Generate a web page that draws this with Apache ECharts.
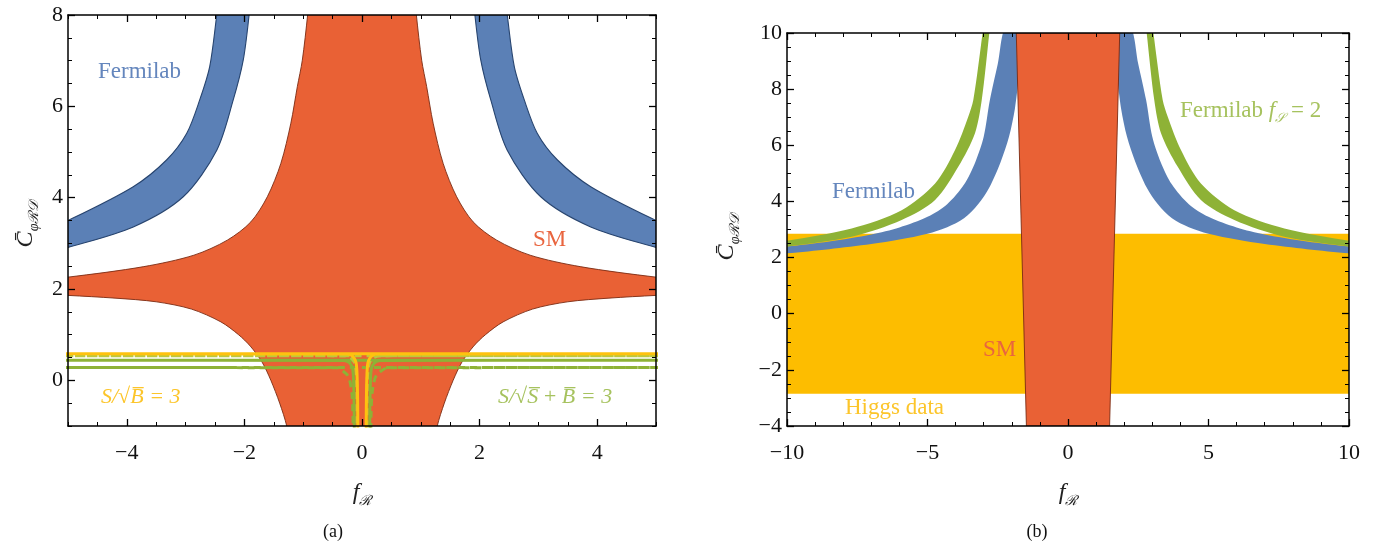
<!DOCTYPE html>
<html><head><meta charset="utf-8">
<script src="https://cdn.jsdelivr.net/npm/echarts@6/dist/echarts.min.js"></script>
<style>html,body{margin:0;padding:0;background:#fff}#c{width:1375px;height:542px}</style>
</head><body><div id="c"></div>
<script>
// ---------- Panel (a) data (right half, mirrored) ----------
const smA_upperAbsF = [0.87, 0.925, 1.015, 1.10, 1.21, 1.38, 1.61, 1.89, 2.29, 2.86, 3.71, 5.0, 5.4];
const smA_upperC    = [8.8,  8.0,   7.01,  6.43, 5.63, 4.75, 4.02, 3.47, 3.07, 2.74, 2.49, 2.26, 2.23];
const smA_lowerAbsF = [1.2,  1.28, 1.4,  1.55, 1.7, 1.9,  2.1, 2.4,  2.9,  3.5,  4.2, 5.0, 5.4];
const smA_lowerC    = [-1.6, -1.0, -0.5, 0.0,  0.4, 0.75, 1.0, 1.28, 1.56, 1.72, 1.8, 1.86, 1.88];

const fermiA_outerAbsF = [2.40, 2.47, 2.59, 2.76, 2.98, 3.32, 3.89, 5.0, 5.4];
const fermiA_outerC    = [8.7,  8.0,  6.87, 6.14, 5.41, 4.83, 4.24, 3.5, 3.3];
const fermiA_innerAbsF = [1.87, 1.92, 2.02, 2.19, 2.47, 3.04, 3.89, 5.0, 5.4];
const fermiA_innerC    = [8.7,  8.0,  7.01, 6.14, 5.04, 4.02, 3.36, 2.91, 2.78];

const ySolidAbsF = [5.2, 0.26, 0.18, 0.13, 0.10, 0.085, 0.075, 0.07];
const ySolidC    = [0.58, 0.575, 0.55, 0.48, 0.38, 0.15, -0.4, -1.2];
const yDashAbsF  = [5.2, 0.30, 0.20, 0.14, 0.11, 0.09, 0.08];
const yDashC     = [0.54, 0.535, 0.50, 0.42, 0.30, 0.0, -1.2];
const gSolidAbsF = [5.2, 0.32, 0.24, 0.19, 0.16, 0.145, 0.135, 0.13];
const gSolidC    = [0.44, 0.435, 0.41, 0.35, 0.26, 0.05, -0.5, -1.2];
const gDashAbsF  = [5.2, 0.43, 0.32, 0.24, 0.20, 0.17, 0.155, 0.15];
const gDashC     = [0.28, 0.275, 0.20, 0.10, -0.05, -0.3, -0.7, -1.2];

// ---------- Panel (b) data ----------
const higgsF = [-10, 10];
const higgsC = [-2.85, 2.85];
const smB_F = [-1.84, 1.84, 1.48, -1.48];
const smB_C = [10, 10, -4, -4];
const fermiB_innerAbsF = [10.5, 10, 8.5, 7, 6, 5, 4.3, 3.7, 3.2, 2.8, 2.4, 2.1, 1.89, 1.75, 1.62];
const fermiB_innerC    = [2.1, 2.15, 2.3, 2.48, 2.64, 2.85, 3.08, 3.4, 3.9, 4.5, 5.4, 6.3, 7.3, 8.5, 10.3];
const fermiB_outerAbsF = [10.5, 10, 8.5, 7, 6, 5, 4.3, 3.7, 3.3, 3.0, 2.78, 2.5, 2.2];
const fermiB_outerC    = [2.34, 2.39, 2.57, 2.82, 3.07, 3.45, 3.9, 4.6, 5.4, 6.3, 7.61, 8.9, 10.3];
const greenB_innerAbsF = [10.5, 10, 7.7, 5.92, 4.73, 3.9, 3.31, 3.07, 2.8, 2.75];
const greenB_innerC    = [2.34, 2.39, 2.74, 3.34, 4.05, 5.24, 6.43, 7.61, 10, 10.5];
const greenB_outerAbsF = [10.5, 10, 7.7, 5.92, 4.73, 4.02, 3.55, 3.37, 3.04, 3.0];
const greenB_outerC    = [2.55, 2.6, 3.04, 3.69, 4.64, 5.83, 7.02, 7.61, 10, 10.4];

const aXMajor = [-4, -2, 0, 2, 4];
const aYMajor = [0, 2, 4, 6, 8];

// ---------- helpers ----------
const zip = (xs, ys, sx) => xs.map((x, i) => [sx * x, ys[i]]);
const rev = a => a.slice().reverse();
const mirrorLine = (absF, c) => rev(zip(absF, c, -1)).concat(zip(absF, c, 1));
function bandPolys(outerF, outerC, innerF, innerC) {
  const left = zip(outerF, outerC, -1).concat(rev(zip(innerF, innerC, -1)));
  const right = zip(outerF, outerC, 1).concat(rev(zip(innerF, innerC, 1)));
  return [left, right];
}
const smA_poly = rev(zip(smA_upperAbsF, smA_upperC, -1))
  .concat(zip(smA_upperAbsF, smA_upperC, 1))
  .concat(rev(zip(smA_lowerAbsF, smA_lowerC, 1)))
  .concat(zip(smA_lowerAbsF, smA_lowerC, -1));
const fermiA_polys = bandPolys(fermiA_outerAbsF, fermiA_outerC, fermiA_innerAbsF, fermiA_innerC);
const fermiB_polys = bandPolys(fermiB_outerAbsF, fermiB_outerC, fermiB_innerAbsF, fermiB_innerC);
const greenB_polys = bandPolys(greenB_outerAbsF, greenB_outerC, greenB_innerAbsF, greenB_innerC);
const higgs_poly = [[higgsF[0], higgsC[0]], [higgsF[1], higgsC[0]], [higgsF[1], higgsC[1]], [higgsF[0], higgsC[1]]];
const smB_poly = smB_F.map((f, i) => [f, smB_C[i]]);

function polySeries(xi, yi, polys, fill, stroke, lw, z, smooth) {
  return {
    type: 'custom', xAxisIndex: xi, yAxisIndex: yi, clip: true, z: z, silent: true,
    data: [[0, 0]],
    renderItem: (params, api) => ({
      type: 'group',
      children: polys.map(p => ({
        type: 'polygon',
        shape: { points: p.map(q => api.coord(q)), smooth: smooth || 0 },
        style: { fill: fill, stroke: stroke || null, lineWidth: lw || 0 }
      }))
    })
  };
}
function lineSeries(data, color, dashed, z) {
  return {
    type: 'line', xAxisIndex: 0, yAxisIndex: 0, data: data, showSymbol: false, symbol: 'none',
    smooth: 0.3, clip: true, z: z, silent: true,
    lineStyle: { color: color, width: 3, type: dashed ? [7, 5] : 'solid' }
  };
}

const FONT = 'Liberation Serif';
const fmt = v => (v < 0 ? '\u2212' + Math.abs(v) : String(v));
const isMajor = (v, step) => Math.abs(v / step - Math.round(v / step)) < 1e-6;
const axisLine = { show: true, onZero: false, lineStyle: { color: '#000', width: 1.5 } };

function aAxis(kind, pos, gridIndex, min, max, majors, labels) {
  const base = {
    gridIndex, type: 'value', position: pos, min, max, z: 10,
    splitLine: { show: false }, axisLine: axisLine
  };
  return [
    Object.assign({}, base, {
      interval: 0.5,
      axisTick: { show: true, inside: true, length: 4, lineStyle: { color: '#000', width: 1 } },
      axisLabel: labels ? {
        show: true, interval: 0, fontFamily: FONT, fontSize: 22, color: '#111',
        margin: kind === 'x' ? 16 : 5,
        formatter: v => (isMajor(v, 2) ? fmt(Math.round(v)) : '')
      } : { show: false }
    }),
    Object.assign({}, base, {
      axisLine: { show: false, onZero: false },
      axisTick: { show: true, inside: true, length: 7, customValues: majors, lineStyle: { color: '#000', width: 1.3 } },
      axisLabel: { show: false }
    })
  ];
}
function bAxis(kind, pos, min, max, interval, split, labels) {
  return {
    gridIndex: 1, type: 'value', position: pos, min, max, interval, z: 10,
    splitLine: { show: false }, axisLine: axisLine,
    axisTick: { show: true, inside: true, length: 7, lineStyle: { color: '#000', width: 1.3 } },
    minorTick: { show: true, splitNumber: split, length: 4, lineStyle: { color: '#000', width: 1 } },
    axisLabel: labels ? { show: true, fontFamily: FONT, fontSize: 22, color: '#111', margin: kind === 'x' ? 16 : 5, formatter: v => fmt(v) } : { show: false }
  };
}

const xAxes = [].concat(
  aAxis('x', 'bottom', 0, -5, 5, aXMajor, true),   // 0,1
  aAxis('x', 'top', 0, -5, 5, aXMajor, false),     // 2,3
  [bAxis('x', 'bottom', -10, 10, 5, 5, true),      // 4
   bAxis('x', 'top', -10, 10, 5, 5, false)]        // 5
);
const yAxes = [].concat(
  aAxis('y', 'left', 0, -1, 8, aYMajor, true),
  aAxis('y', 'right', 0, -1, 8, aYMajor, false),
  [bAxis('y', 'left', -4, 10, 2, 4, true),
   bAxis('y', 'right', -4, 10, 2, 4, false)]
);

const BLUE = '#5b80b6', RED = '#e96135', YEL = '#fdbd00', GRN = '#8eb236';

const series = [
  polySeries(0, 0, [smA_poly], RED, '#7a2a12', 0.9, 1, 0.3),
  polySeries(0, 0, fermiA_polys, BLUE, '#27446f', 1.1, 2, 0.3),
  lineSeries(mirrorLine(gDashAbsF, gDashC), GRN, true, 3),
  lineSeries(mirrorLine(gSolidAbsF, gSolidC), GRN, false, 4),
  lineSeries(mirrorLine(yDashAbsF, yDashC), '#bcc83c', true, 5),
  lineSeries(mirrorLine(ySolidAbsF, ySolidC), '#fec20f', false, 6),
  polySeries(4, 4, [higgs_poly], YEL, null, 0, 1, 0),
  polySeries(4, 4, fermiB_polys, BLUE, null, 0, 2, 0.3),
  polySeries(4, 4, greenB_polys, GRN, null, 0, 3, 0.3),
  polySeries(4, 4, [smB_poly], RED, '#7a2a12', 0.9, 4, 0)
];

function txt(x, y, text, color, size, extra) {
  return { type: 'text', x, y, z: 20, style: Object.assign({ text, fill: color, font: (size || 22) + 'px "' + FONT + '"', align: 'left', verticalAlign: 'middle' }, extra || {}) };
}
function sub(x, y, main, s, rot) {
  return {
    type: 'text', x, y, rotation: rot || 0, z: 20,
    style: {
      text: '{c|' + main + '}{s|' + s + '}', align: 'center', verticalAlign: 'middle',
      rich: {
        c: { fontFamily: FONT, fontStyle: 'italic', fontSize: 24, lineHeight: 30, verticalAlign: 'middle', fill: '#222' },
        s: { fontFamily: FONT, fontStyle: 'italic', fontSize: 14, lineHeight: 14, verticalAlign: 'bottom', fill: '#222' }
      }
    }
  };
}

const graphic = [
  txt(98, 72, 'Fermilab', '#6486bd', 23),
  txt(533, 240, 'SM', '#e9653f', 23),
  { type: 'text', x: 101, y: 397, z: 20, style: { text: 'S/\u221AB\u0305 = 3', fill: '#fcc52a', font: 'italic 22px "' + FONT + '"', align: 'left', verticalAlign: 'middle' } },
  { type: 'text', x: 498, y: 397, z: 20, style: { text: 'S/\u221AS\u0305\u2009+\u2009B\u0305 = 3', fill: '#a6c25e', font: 'italic 22px "' + FONT + '"', align: 'left', verticalAlign: 'middle' } },
  txt(832, 192, 'Fermilab', '#6486bd', 23),
  { type: 'text', x: 1180, y: 111, z: 20, style: {
      text: 'Fermilab {i|f}{s|\uD835\uDCAE} = 2', align: 'left', verticalAlign: 'middle',
      font: '23px "' + FONT + '"', fill: '#a6c25e',
      rich: { i: { fontFamily: FONT, fontStyle: 'italic', fontSize: 23, lineHeight: 28, verticalAlign: 'middle', fill: '#a6c25e' },
              s: { fontFamily: FONT, fontStyle: 'italic', fontSize: 13, lineHeight: 14, verticalAlign: 'bottom', fill: '#a6c25e' } } } },
  txt(983, 350, 'SM', '#e9653f', 23),
  txt(845, 408, 'Higgs data', '#fcc52a', 23),
  sub(26, 224, 'C\u0304', '\u03C6\u211B\uD835\uDC9F', Math.PI / 2),
  sub(727, 237, 'C\u0304', '\u03C6\u211B\uD835\uDC9F', Math.PI / 2),
  sub(362, 493, 'f', '\u211B'), sub(1068, 493, 'f', '\u211B'),
  txt(333, 532, '(a)', '#111', 18, { align: 'center' }),
  txt(1037, 532, '(b)', '#111', 18, { align: 'center' })
];

const chart = echarts.init(document.getElementById('c'), null, { renderer: 'canvas' });
chart.setOption({
  animation: false,
  backgroundColor: '#fff',
  grid: [
    { left: 68, top: 15, width: 588, height: 411 },
    { left: 787, top: 33, width: 562, height: 393 }
  ],
  xAxis: xAxes,
  yAxis: yAxes,
  series: series,
  graphic: graphic
});
</script>
</body></html>
